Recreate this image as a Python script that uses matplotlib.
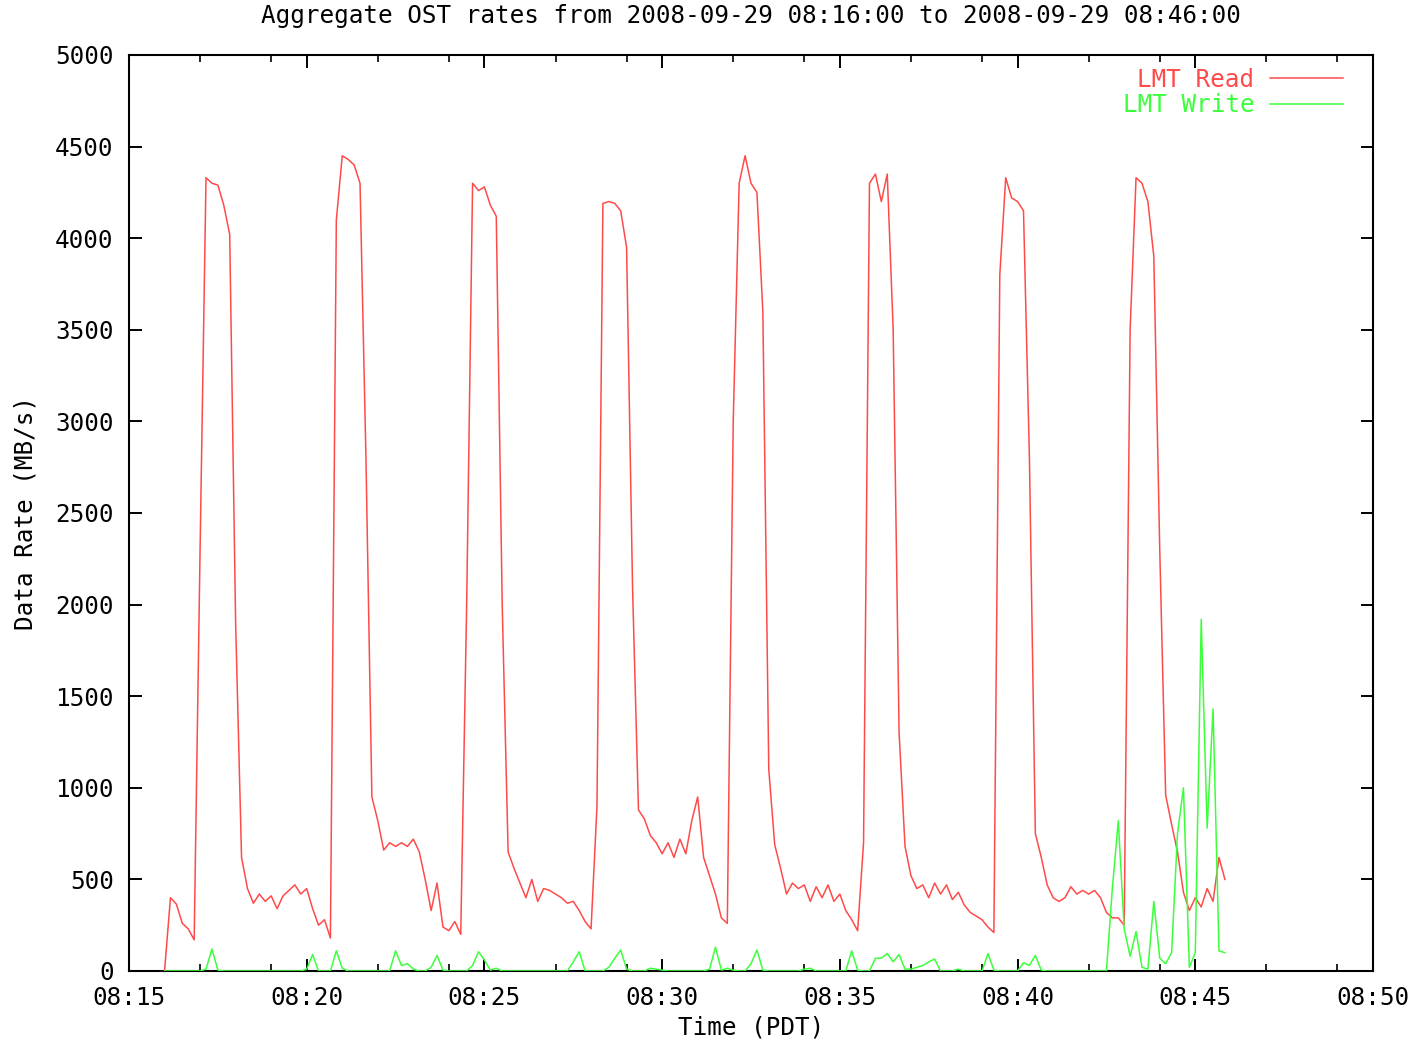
import numpy as np
import matplotlib
matplotlib.use('Agg')
import matplotlib.pyplot as plt
import matplotlib.dates as mdates

# samples every 10 s starting 08:16:00 (MB/s)
start_time = np.datetime64('2008-09-29T08:16:00')
step_s = 10

read_rate = [
    0, 400, 365, 260, 230, 170,
    2300, 4330, 4300, 4290, 4180, 4020,
    1900, 620, 450, 370, 420, 380,
    410, 340, 410, 440, 470, 420,
    450, 340, 250, 280, 180, 4100,
    4450, 4430, 4400, 4300, 2800, 950,
    820, 660, 700, 680, 700, 680,
    720, 650, 500, 330, 480, 240,
    220, 270, 200, 2000, 4300, 4260,
    4280, 4180, 4120, 2000, 650, 560,
    480, 400, 500, 380, 450, 440,
    420, 400, 370, 380, 330, 270,
    230, 900, 4190, 4200, 4190, 4150,
    3950, 2100, 880, 830, 740, 700,
    640, 700, 620, 720, 640, 820,
    950, 620, 520, 420, 290, 260,
    3000, 4300, 4450, 4300, 4250, 3600,
    1100, 690, 560, 420, 480, 450,
    470, 380, 460, 400, 470, 380,
    420, 330, 280, 220, 700, 4300,
    4350, 4200, 4350, 3500, 1300, 680,
    520, 450, 470, 400, 480, 420,
    470, 390, 430, 360, 320, 300,
    280, 240, 210, 3800, 4330, 4220,
    4200, 4150, 2800, 750, 620, 470,
    400, 380, 400, 460, 420, 440,
    420, 440, 400, 320, 290, 290,
    250, 3500, 4330, 4300, 4200, 3900,
    2300, 960, 800, 650, 430, 330,
    400, 350, 450, 380, 620, 500,
]

write_rate = [
    0, 0, 0, 0, 0, 0,
    0, 10, 120, 5, 0, 0,
    0, 0, 0, 0, 0, 0,
    0, 0, 0, 0, 0, 0,
    10, 90, 0, 0, 0, 110,
    15, 0, 0, 0, 0, 0,
    0, 0, 0, 110, 30, 40,
    10, 0, 0, 20, 85, 5,
    0, 0, 0, 0, 30, 105,
    60, 5, 15, 0, 0, 0,
    0, 0, 0, 0, 0, 0,
    0, 0, 0, 50, 105, 0,
    0, 0, 0, 20, 70, 115,
    10, 0, 0, 0, 15, 10,
    5, 0, 0, 0, 0, 0,
    0, 0, 10, 130, 5, 15,
    5, 0, 0, 40, 115, 5,
    0, 0, 0, 0, 0, 0,
    10, 15, 0, 0, 0, 0,
    0, 0, 110, 5, 0, 0,
    70, 70, 95, 50, 90, 10,
    10, 20, 30, 50, 65, 0,
    0, 0, 10, 0, 0, 0,
    0, 95, 5, 0, 0, 0,
    0, 45, 30, 85, 5, 0,
    0, 0, 0, 0, 0, 0,
    0, 0, 0, 0, 450, 820,
    230, 80, 215, 20, 10, 380,
    70, 40, 100, 750, 1000, 20,
    100, 1920, 780, 1430, 110, 100,
]

title = 'Aggregate OST rates from 2008-09-29 08:16:00 to 2008-09-29 08:46:00'

times = start_time + np.arange(len(read_rate)) * np.timedelta64(step_s, 's')
times = times.astype('datetime64[s]').astype(object)

font = 'DejaVu Sans Mono'
fs = 17.5
plt.rcParams['font.family'] = font

fig = plt.figure(figsize=(14.14, 10.42), dpi=100)
ax = fig.add_axes([129/1414, 1 - 971/1042, (1373-129)/1414, (971-55)/1042])

ax.plot(times, read_rate, color='#ff4a4a', lw=1.1, label='LMT Read', zorder=3)
ax.plot(times, write_rate, color='#3cff3c', lw=1.1, label='LMT Write', zorder=3)

ax.set_xlim(np.datetime64('2008-09-29T08:15:00').astype(object),
            np.datetime64('2008-09-29T08:50:00').astype(object))
ax.set_ylim(0, 5000)
ax.set_yticks(np.arange(0, 5001, 500))

ax.xaxis.set_major_locator(mdates.MinuteLocator(byminute=range(0, 60, 5)))
ax.xaxis.set_minor_locator(mdates.MinuteLocator(byminute=[m for m in range(60) if m % 5 in (2, 4)]))
ax.xaxis.set_major_formatter(mdates.DateFormatter('%H:%M'))

ax.tick_params(which='both', direction='in', top=True, right=True, colors='black')
ax.tick_params(which='major', length=9, width=1.4, labelsize=fs, pad=11)
ax.tick_params(which='minor', length=5, width=1.2)
for s in ax.spines.values():
    s.set_linewidth(1.5)

ax.set_title(title, fontsize=fs, pad=23)
ax.set_xlabel('Time (PDT)', fontsize=fs, labelpad=4)
ax.set_ylabel('Data Rate (MB/s)', fontsize=fs, labelpad=13)

leg = ax.legend(loc='upper right', bbox_to_anchor=(0.976, 0.986), frameon=False,
                markerfirst=False, fontsize=fs, labelcolor='linecolor',
                handlelength=3.0, handletextpad=0.65, labelspacing=0.05,
                borderaxespad=0, borderpad=0)

fig.savefig('out.png', dpi=100)
